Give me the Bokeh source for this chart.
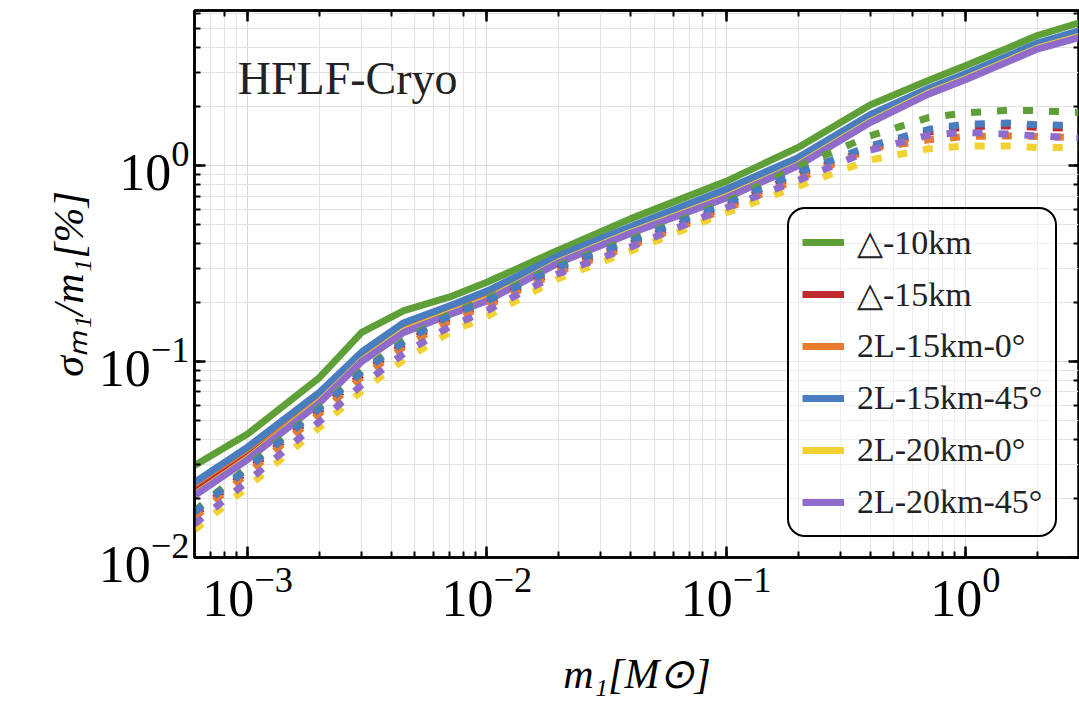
from bokeh.plotting import figure
from bokeh.models import LogAxis, Legend, LegendItem, Label, Range1d
from bokeh.embed import file_html
from bokeh.resources import INLINE

# ---------------- data ----------------
masses = [0.0006, 0.001, 0.002, 0.003, 0.0045, 0.007, 0.01, 0.02, 0.04,
          0.1, 0.2, 0.4, 0.7, 1.0, 1.5, 2.0, 3.0]

labels = ["△-10km", "△-15km", "2L-15km-0°", "2L-15km-45°", "2L-20km-0°", "2L-20km-45°"]
colors = ["#5f9f37", "#be2a2e", "#e87c2c", "#4a7cc0", "#f2d230", "#8f6ccb"]

# solid curves
solid_tri10 = [0.0295, 0.0427, 0.083, 0.141, 0.182, 0.214, 0.254, 0.372, 0.537,
               0.832, 1.24, 2.04, 2.72, 3.24, 3.98, 4.62, 5.37]
solid_tri15 = [0.0224, 0.0340, 0.0650, 0.106, 0.150, 0.184, 0.219, 0.334, 0.474,
               0.740, 1.08, 1.78, 2.43, 2.89, 3.55, 4.13, 4.79]
solid_2l15_0 = [0.0238, 0.0360, 0.0685, 0.110, 0.155, 0.190, 0.225, 0.341, 0.482,
                0.746, 1.08, 1.79, 2.44, 2.90, 3.57, 4.15, 4.81]
solid_2l15_45 = [0.0242, 0.0366, 0.0697, 0.112, 0.158, 0.193, 0.229, 0.347, 0.490,
                 0.759, 1.10, 1.82, 2.48, 2.95, 3.63, 4.22, 4.89]
solid_2l20_0 = [0.0209, 0.0320, 0.0624, 0.101, 0.143, 0.176, 0.206, 0.323, 0.457,
                0.692, 1.01, 1.68, 2.35, 2.78, 3.43, 3.98, 4.57]
solid_2l20_45 = [0.0207, 0.0316, 0.0617, 0.100, 0.141, 0.174, 0.204, 0.320, 0.452,
                 0.684, 1.00, 1.66, 2.32, 2.75, 3.39, 3.94, 4.52]

# dotted curves
dot_tri10 = [0.0173, 0.0290, 0.0586, 0.0898, 0.128, 0.175, 0.208, 0.311, 0.420,
             0.652, 0.99, 1.42, 1.76, 1.86, 1.92, 1.91, 1.87]
dot_tri15 = [0.0165, 0.0277, 0.0560, 0.0857, 0.123, 0.167, 0.198, 0.297, 0.401,
             0.620, 0.90, 1.22, 1.48, 1.58, 1.60, 1.57, 1.55]
dot_2l15_0 = [0.0160, 0.0269, 0.0543, 0.0832, 0.119, 0.162, 0.193, 0.288, 0.389,
              0.602, 0.857, 1.22, 1.355, 1.41, 1.42, 1.41, 1.39]
dot_2l15_45 = [0.0170, 0.0285, 0.0575, 0.0881, 0.126, 0.172, 0.204, 0.305, 0.412,
               0.638, 0.923, 1.26, 1.53, 1.63, 1.65, 1.62, 1.60]
dot_2l20_0 = [0.0138, 0.0229, 0.0462, 0.0708, 0.102, 0.141, 0.170, 0.266, 0.367,
              0.575, 0.785, 1.07, 1.22, 1.26, 1.26, 1.24, 1.24]
dot_2l20_45 = [0.0148, 0.0245, 0.0495, 0.0759, 0.110, 0.151, 0.182, 0.282, 0.385,
               0.610, 0.841, 1.20, 1.43, 1.48, 1.45, 1.42, 1.39]

solid_series = [solid_tri10, solid_tri15, solid_2l15_0, solid_2l15_45, solid_2l20_0, solid_2l20_45]
dotted_series = [dot_tri10, dot_tri15, dot_2l15_0, dot_2l15_45, dot_2l20_0, dot_2l20_45]

x_range = (6.0e-4, 3.0)
y_range = (0.01, 6.2)
panel_title = "HFLF-Cryo"
title_pos = (9.1e-4, 2.8)

SERIF = "Liberation Serif"

# ---------------- figure ----------------
p = figure(width=1079, height=704, x_axis_type="log", y_axis_type="log",
           x_range=Range1d(*x_range), y_range=Range1d(*y_range),
           output_backend="svg", toolbar_location=None,
           min_border_left=194, min_border_right=0, min_border_top=10,
           min_border_bottom=147)
p.background_fill_color = "white"
p.border_fill_color = "white"
p.outline_line_color = "black"
p.outline_line_width = 2.5

for g in (p.xgrid[0], p.ygrid[0]):
    g.grid_line_color = "#d8d8d8"
    g.grid_line_width = 1
    g.minor_grid_line_color = "#e3e3e3"
    g.minor_grid_line_width = 1

def style_axis(ax, show_labels=True):
    ax.axis_line_color = "black"
    ax.axis_line_width = 2.5
    ax.major_tick_in = 11
    ax.major_tick_out = 0
    ax.minor_tick_in = 6
    ax.minor_tick_out = 0
    ax.major_tick_line_width = 2.5
    ax.minor_tick_line_width = 2
    ax.major_tick_line_color = "black"
    ax.minor_tick_line_color = "black"
    ax.major_label_text_font = SERIF
    if show_labels:
        ax.major_label_text_font_size = "52px"
        ax.major_label_text_color = "black"
    else:
        ax.major_label_text_font_size = "2px"
        ax.major_label_text_alpha = 0.0
        ax.major_label_standoff = 0

style_axis(p.xaxis[0])
style_axis(p.yaxis[0])
p.xaxis[0].major_label_standoff = 10
p.yaxis[0].major_label_standoff = 5

p.xaxis[0].axis_label = "m₁[M⊙]"
p.yaxis[0].axis_label = "σₘ₁/m₁[%]"
for ax in (p.xaxis[0], p.yaxis[0]):
    ax.axis_label_text_font = SERIF
    ax.axis_label_text_font_size = "42px"
    ax.axis_label_text_font_style = "italic"
    ax.axis_label_text_color = "black"
p.xaxis[0].axis_label_standoff = 32
p.yaxis[0].axis_label_standoff = 4

top_ax = LogAxis()
right_ax = LogAxis()
style_axis(top_ax, show_labels=False)
style_axis(right_ax, show_labels=False)
p.add_layout(top_ax, "above")
p.add_layout(right_ax, "right")

# ---------------- lines ----------------
solid_renderers = []
for ys, c in zip(solid_series, colors):
    r = p.line(masses, ys, line_color=c, line_width=7, line_cap="butt", line_join="round")
    solid_renderers.append(r)

for ys, c in zip(dotted_series, colors):
    p.line(masses, ys, line_color=c, line_width=7, line_dash="10 16", line_cap="butt")

# ---------------- legend ----------------
legend = Legend(items=[LegendItem(label=lab, renderers=[r]) for lab, r in zip(labels, solid_renderers)],
                location=(593, 20))
legend.label_text_font = SERIF
legend.label_text_font_size = "34px"
legend.label_text_color = "#222222"
legend.glyph_width = 42
legend.glyph_height = 40
legend.label_height = 40
legend.label_standoff = 13
legend.spacing = 12
legend.padding = 13
legend.margin = 0
legend.border_line_color = "black"
legend.border_line_alpha = 1.0
legend.border_line_width = 2.5
legend.background_fill_color = "white"
legend.background_fill_alpha = 0.4
if "border_radius" in Legend.properties():
    legend.border_radius = 18
p.add_layout(legend, "center")

# ---------------- panel title ----------------
p.add_layout(Label(x=title_pos[0], y=title_pos[1], text=panel_title,
                   text_font=SERIF, text_font_size="46px", text_color="#222222",
                   text_baseline="alphabetic"))

open("out.html", "w").write(file_html(p, INLINE))
